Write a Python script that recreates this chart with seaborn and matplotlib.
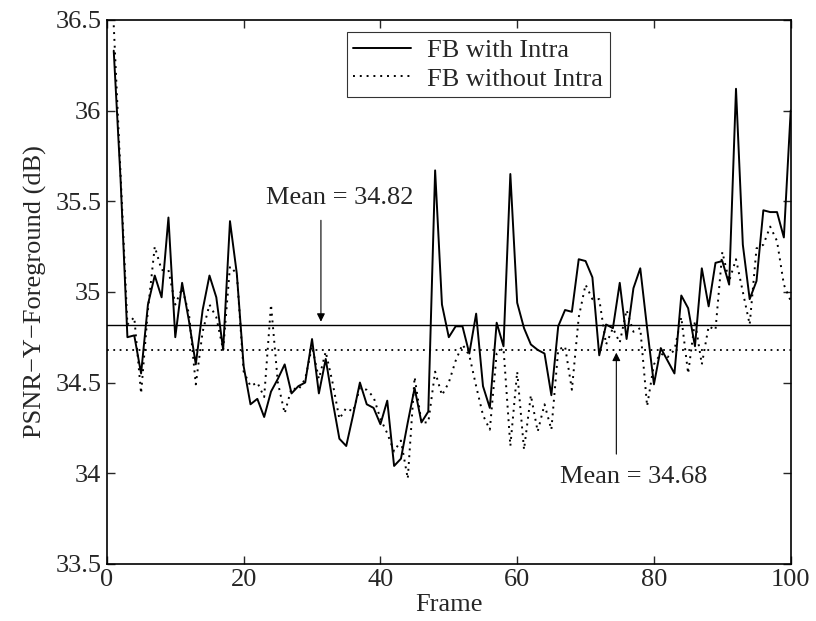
import numpy as np
import pandas as pd
import matplotlib
matplotlib.use("Agg")
import matplotlib.pyplot as plt
import seaborn as sns

# PSNR of the foreground per frame
frames = list(range(1, 101))
with_intra = [
    36.33, 35.62, 34.75, 34.76, 34.55, 34.93, 35.09, 34.97, 35.41, 34.75,
    35.05, 34.84, 34.60, 34.90, 35.09, 34.97, 34.68, 35.39, 35.10, 34.59,
    34.38, 34.41, 34.31, 34.45, 34.52, 34.60, 34.44, 34.48, 34.50, 34.74,
    34.44, 34.63, 34.40, 34.19, 34.15, 34.32, 34.50, 34.38, 34.36, 34.27,
    34.40, 34.04, 34.08, 34.28, 34.47, 34.28, 34.34, 35.67, 34.93, 34.75,
    34.81, 34.81, 34.66, 34.88, 34.48, 34.36, 34.83, 34.70, 35.65, 34.94,
    34.80, 34.71, 34.68, 34.66, 34.43, 34.81, 34.90, 34.89, 35.18, 35.17,
    35.08, 34.65, 34.82, 34.80, 35.05, 34.74, 35.02, 35.13, 34.80, 34.49,
    34.69, 34.62, 34.55, 34.98, 34.91, 34.70, 35.13, 34.92, 35.16, 35.17,
    35.04, 36.12, 35.26, 34.96, 35.06, 35.45, 35.44, 35.44, 35.30, 36.00,
]
without_intra = [
    36.47, 35.65, 34.82, 34.86, 34.44, 34.90, 35.25, 35.12, 35.12, 34.93,
    35.02, 34.88, 34.49, 34.78, 34.93, 34.86, 34.68, 35.14, 35.10, 34.56,
    34.48, 34.50, 34.42, 34.93, 34.50, 34.33, 34.47, 34.46, 34.52, 34.70,
    34.52, 34.67, 34.50, 34.30, 34.36, 34.34, 34.47, 34.46, 34.42, 34.30,
    34.22, 34.12, 34.18, 33.97, 34.53, 34.28, 34.28, 34.56, 34.43, 34.50,
    34.62, 34.71, 34.65, 34.48, 34.32, 34.24, 34.66, 34.69, 34.15, 34.56,
    34.13, 34.43, 34.23, 34.38, 34.24, 34.68, 34.70, 34.46, 34.86, 35.04,
    34.96, 34.96, 34.71, 34.80, 34.72, 34.90, 34.78, 34.80, 34.37, 34.60,
    34.66, 34.64, 34.68, 34.86, 34.55, 34.84, 34.60, 34.81, 34.79, 35.22,
    35.06, 35.18, 35.00, 34.82, 35.24, 35.26, 35.36, 35.28, 35.04, 34.95,
]
mean_with = 34.82
mean_without = 34.68

sns.set_style("ticks")
plt.rcParams["font.family"] = ["Liberation Serif", "DejaVu Serif"]
plt.rcParams["font.size"] = 19

fig = plt.figure(figsize=(8.16, 6.21), dpi=100)
ax = fig.add_axes([0.131, 0.092, 0.838, 0.876])

sns.lineplot(x=frames, y=with_intra, color="black", linewidth=1.4,
             label="FB with Intra", ax=ax)
sns.lineplot(x=frames, y=without_intra, color="black", linewidth=1.4,
             linestyle=(0, (1, 2.5)), label="FB without Intra", ax=ax)

# mean levels
ax.axhline(mean_with, color="black", linewidth=1.0)
ax.axhline(mean_without, color="black", linewidth=1.3, linestyle=(0, (1, 2.5)))

ax.annotate("", xy=(31.3, mean_with), xytext=(31.3, 35.41),
            arrowprops=dict(arrowstyle="-|>", color="black", lw=0.8,
                            mutation_scale=12))
ax.text(34, 35.52, f"Mean = {mean_with:.2f}", ha="center", va="center", fontsize=19)
ax.annotate("", xy=(74.5, mean_without), xytext=(74.5, 34.09),
            arrowprops=dict(arrowstyle="-|>", color="black", lw=0.8,
                            mutation_scale=12))
ax.text(77, 33.98, f"Mean = {mean_without:.2f}", ha="center", va="center", fontsize=19)

ax.set_xlim(0, 100)
ax.set_ylim(33.5, 36.5)
ax.set_xticks([0, 20, 40, 60, 80, 100])
ax.set_yticks([33.5, 34, 34.5, 35, 35.5, 36, 36.5])
ax.set_yticklabels(["33.5", "34", "34.5", "35", "35.5", "36", "36.5"])
ax.tick_params(direction="in", top=True, right=True, length=6, width=1,
               labelsize=19, pad=4)
for s in ax.spines.values():
    s.set_linewidth(1.2)
    s.set_color("black")

ax.set_xlabel("Frame", fontsize=19, labelpad=2)
ax.set_ylabel("PSNR\u2212Y\u2212Foreground (dB)", fontsize=19, labelpad=6)

leg = ax.legend(loc="upper center", bbox_to_anchor=(0.543, 0.978), fontsize=19,
                frameon=True, fancybox=False, handlelength=2.2, borderaxespad=0,
                borderpad=0.25, labelspacing=0.2, handletextpad=0.6)
leg.get_frame().set_edgecolor("black")
leg.get_frame().set_linewidth(0.8)

fig.savefig("out.png", dpi=100)
